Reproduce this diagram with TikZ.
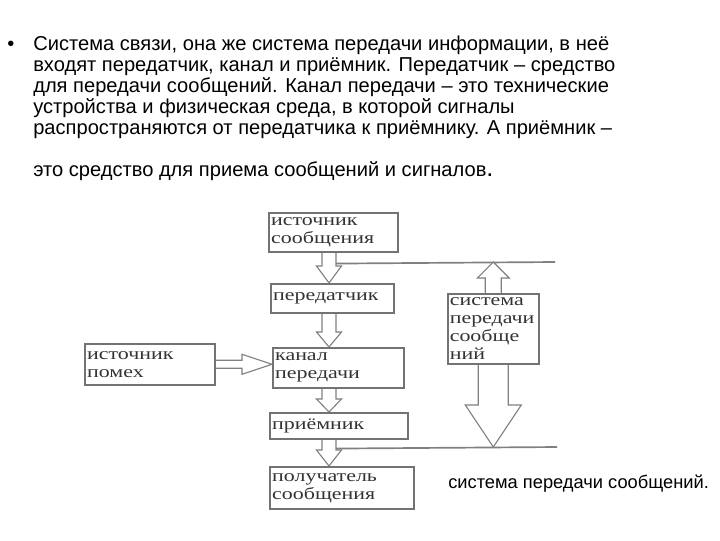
\documentclass[tikz,border=0pt]{standalone}
\usepackage{fontspec}
\setmainfont{Liberation Sans}
\newfontfamily\boxfont[FakeStretch=1.3]{Liberation Serif}
\usetikzlibrary{calc, backgrounds}

% hollow block arrow pointing down: top point, tip, shaft half, head half, head length
\newcommand{\downblock}[5]{%
  \draw[block] ($(#1)+(-#3,0)$) -- ($(#2)+(-#3,-#5)$) -- ($(#2)+(-#4,-#5)$) -- (#2)
    -- ($(#2)+(#4,-#5)$) -- ($(#2)+(#3,-#5)$) -- ($(#1)+(#3,0)$);}

\begin{document}
\begin{tikzpicture}[x=0.025cm, y=-0.025cm]
% --- Global Styles ---
\tikzstyle{box} = [draw=black!55, line width=1.1pt, anchor=north west, align=left, inner xsep=0.06cm, inner ysep=0pt, text=black!80, font=\boxfont\fontsize{12}{12.8}\selectfont]
\tikzstyle{block} = [draw=black!50, line width=0.8pt, fill=white]
\tikzstyle{rule} = [draw=black!50, line width=1.2pt]
\tikzstyle{para} = [anchor=base west, inner sep=0pt, font=\fontsize{14.3}{14.9}\selectfont]

\useasboundingbox (0,0) rectangle (720,540);

% --- Text above the scheme ---
\node[para] (bul) at (7,50) {•};
\node[para] (l1) at (33,50) {Система связи, она же система передачи информации, в неё};
\node[para] (l2) at (33,71) {входят передатчик, канал и приёмник. Передатчик – средство};
\node[para] (l3) at (33,92) {для передачи сообщений. Канал передачи – это технические};
\node[para] (l4) at (33,113) {устройства и физическая среда, в которой сигналы};
\node[para] (l5) at (33,134) {распространяются от передатчика к приёмнику. А приёмник –};
\node[para] (l6) at (33,176) {это средство для приема сообщений и сигналов{\fontsize{18}{18}\selectfont .}};

% --- Column of the chain ---
\coordinate (col) at (329,0);
\coordinate (topR) at (555,262);
\coordinate (botR) at (557,447);

% ==========================================
% Boxes
% ==========================================
\node[box, text width=3.105cm, minimum height=0.975cm] (src) at (268,212) {источник\\сообщения};
\node[box, text width=2.955cm, minimum height=0.725cm] (tx) at (270,283) {передатчик};
\node[box, text width=3.155cm, minimum height=1.0cm] (chan) at (272,347) {канал\\передачи};
\node[box, text width=3.13cm, minimum height=1.025cm] (noise) at (84,343) {источник\\помех};
\node[box, text width=3.33cm, minimum height=0.65cm] (rx) at (269,412) {приёмник};
\node[box, text width=3.48cm, minimum height=1.05cm] (dst) at (269,466) {получатель\\сообщения};
\node[box, inner xsep=0.05cm, text width=2.175cm, minimum height=1.75cm] (sys) at (447,293) {система\\передачи\\сообще\\ний};

\node[para, font=\fontsize{13}{14}\selectfont] (cap) at (448,488) {система передачи сообщений.};

% ==========================================
% Block arrows and lines
% ==========================================
\begin{pgfonlayer}{background}
% chain down the column
\downblock{src.south -| col}{tx.north -| col}{7}{12.5}{17}
\downblock{tx.south -| col}{chan.north -| col}{7}{12.5}{15}
\downblock{chan.south -| col}{rx.north -| col}{7}{12.5}{13}
\downblock{rx.south -| col}{dst.north -| col}{7}{12.5}{16}

% noise into the channel
\draw[block] ($(noise.east)+(0,-4)$) -- ($(noise.east -| chan.west)+(-30,-4)$) -- ($(noise.east -| chan.west)+(-30,-10)$) -- (noise.east -| chan.west)
  -- ($(noise.east -| chan.west)+(-30,10)$) -- ($(noise.east -| chan.west)+(-30,4)$) -- ($(noise.east)+(0,4)$);

% system bounds
\draw[rule] ($(src.south -| col)+(7,11)$) -- (topR);
\draw[rule] ($(rx.south -| col)+(7,9)$) -- (botR);

% up and down from the system box
\draw[block] ($(sys.north)+(-8,0)$) -- ($(sys.north |- topR)+(-8,16)$) -- ($(sys.north |- topR)+(-16,16)$) -- (sys.north |- topR)
  -- ($(sys.north |- topR)+(16,16)$) -- ($(sys.north |- topR)+(8,16)$) -- ($(sys.north)+(8,0)$);
\downblock{sys.south}{sys.south |- botR}{15}{28}{42}
\end{pgfonlayer}

\end{tikzpicture}
\end{document}
